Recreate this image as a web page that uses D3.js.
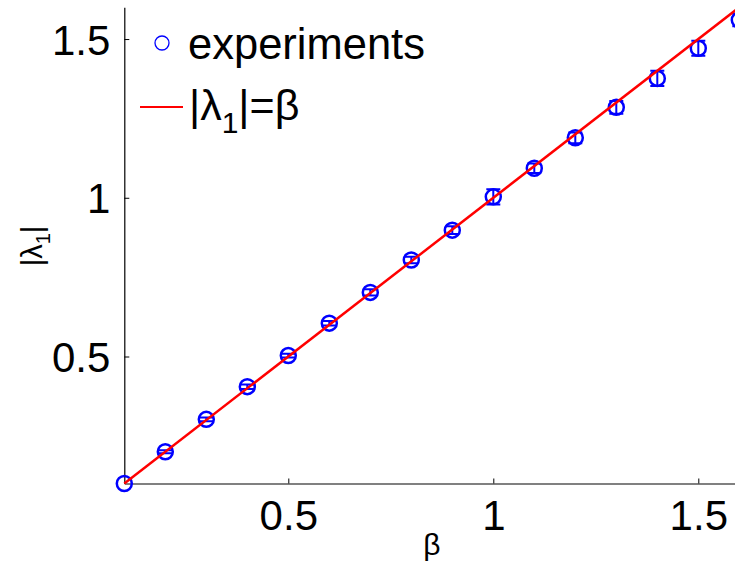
<!DOCTYPE html>
<html>
<head>
<meta charset="utf-8">
<script src="https://cdn.jsdelivr.net/npm/d3@7"></script>
<style>
  body { margin: 0; background: #fff; }
  text { font-family: "Liberation Sans", Arial, sans-serif; }
</style>
</head>
<body>
<div id="chart"></div>
<script>
// measured values
const betaVals = [0.1, 0.2, 0.3, 0.4, 0.5, 0.6, 0.7, 0.8, 0.9, 1.0, 1.1, 1.2, 1.3, 1.4, 1.5, 1.6]
const lambdaVals = [0.1, 0.2, 0.302, 0.405, 0.503, 0.605, 0.702, 0.804, 0.898, 1.003, 1.093, 1.189, 1.285, 1.376, 1.471, 1.56]
const errVals = [0.0, 0.005, 0.006, 0.007, 0.006, 0.007, 0.01, 0.01, 0.012, 0.024, 0.015, 0.017, 0.02, 0.024, 0.024, 0.02]
// theory line |lambda_1| = beta
const fitBeta = [0.1, 1.6]
const xTicks = [0.5, 1, 1.5]
const yTicks = [0.5, 1, 1.5]

const width = 735, height = 567
const data = betaVals.map((b, i) => ({b: b, l: lambdaVals[i], e: errVals[i]}))

const x = d3.scaleLinear().domain([0.1, 1.6]).range([124.3, 739.3])
const y = d3.scaleLinear().domain([0.1, 1.6]).range([483.5, 7.3])

const svg = d3.select('#chart')
  .append('svg')
    .attr('width', width)
    .attr('height', height)

// x axis
const gx = svg.append('g')
    .attr('transform', `translate(0, ${y(0.1)})`)
    .call(d3.axisBottom(x).tickValues(xTicks).tickFormat(d3.format('')).tickSizeInner(-5).tickSizeOuter(0))
gx.select('.domain').attr('stroke', '#808080').attr('stroke-width', 2)
gx.selectAll('.tick line').attr('stroke', '#000')
gx.selectAll('.tick text')
    .attr('y', 46.5).attr('dy', null)
    .attr('font-size', 42).attr('fill', '#000')

// y axis
const gy = svg.append('g')
    .attr('transform', `translate(${x(0.1)}, 0)`)
    .call(d3.axisLeft(y).tickValues(yTicks).tickFormat(d3.format('')).tickSizeInner(-5).tickSizeOuter(0))
gy.select('.domain').attr('stroke', '#000').attr('stroke-width', 1.2)
gy.selectAll('.tick text')
    .attr('x', -14).attr('dy', '0.36em')
    .attr('font-size', 42).attr('fill', '#000')

// axis labels
svg.append('text')
    .attr('x', 432).attr('y', 555)
    .attr('text-anchor', 'middle')
    .attr('font-size', 30)
    .text('β')

const ylab = svg.append('text')
    .attr('transform', 'translate(42, 246) rotate(-90)')
    .attr('text-anchor', 'middle')
    .attr('font-size', 29)
ylab.append('tspan').text('|λ')
ylab.append('tspan').attr('font-size', 20).attr('dy', 8).text('1')
ylab.append('tspan').attr('dy', -8).text('|')

// error bars
const bars = svg.append('g')
    .attr('stroke', '#0000ff')
    .attr('stroke-width', 2)
    .attr('fill', 'none')
bars.selectAll('path')
  .data(data.filter(d => d.e > 0))
  .join('path')
    .attr('d', d => {
      const cx = x(d.b), y0 = y(d.l - d.e), y1 = y(d.l + d.e)
      return `M${cx},${y0}V${y1}M${cx - 7},${y0}H${cx + 7}M${cx - 7},${y1}H${cx + 7}`
    })

// experiment markers
svg.append('g')
  .selectAll('circle')
  .data(data)
  .join('circle')
    .attr('cx', d => x(d.b))
    .attr('cy', d => y(d.l))
    .attr('r', 7.5)
    .attr('fill', 'none')
    .attr('stroke', '#0000ff')
    .attr('stroke-width', 2.5)

// theory line
svg.append('path')
    .datum(fitBeta)
    .attr('d', d3.line().x(d => x(d)).y(d => y(d)))
    .attr('stroke', '#ff0000')
    .attr('stroke-width', 2.5)
    .attr('fill', 'none')

// legend
const legend = svg.append('g')
legend.append('circle')
    .attr('cx', 162).attr('cy', 43).attr('r', 7)
    .attr('fill', 'none').attr('stroke', '#0000ff').attr('stroke-width', 1.3)
legend.append('text')
    .attr('x', 188).attr('y', 59)
    .attr('font-size', 43.5)
    .text('experiments')
legend.append('line')
    .attr('x1', 140).attr('x2', 183)
    .attr('y1', 107).attr('y2', 107)
    .attr('stroke', '#ff0000').attr('stroke-width', 2)
const lt = legend.append('text')
    .attr('x', 189).attr('y', 120)
    .attr('font-size', 43)
lt.append('tspan').text('|λ')
lt.append('tspan').attr('font-size', 30).attr('dy', 13).text('1')
lt.append('tspan').attr('dy', -13).text('|=β')
</script>
</body>
</html>
